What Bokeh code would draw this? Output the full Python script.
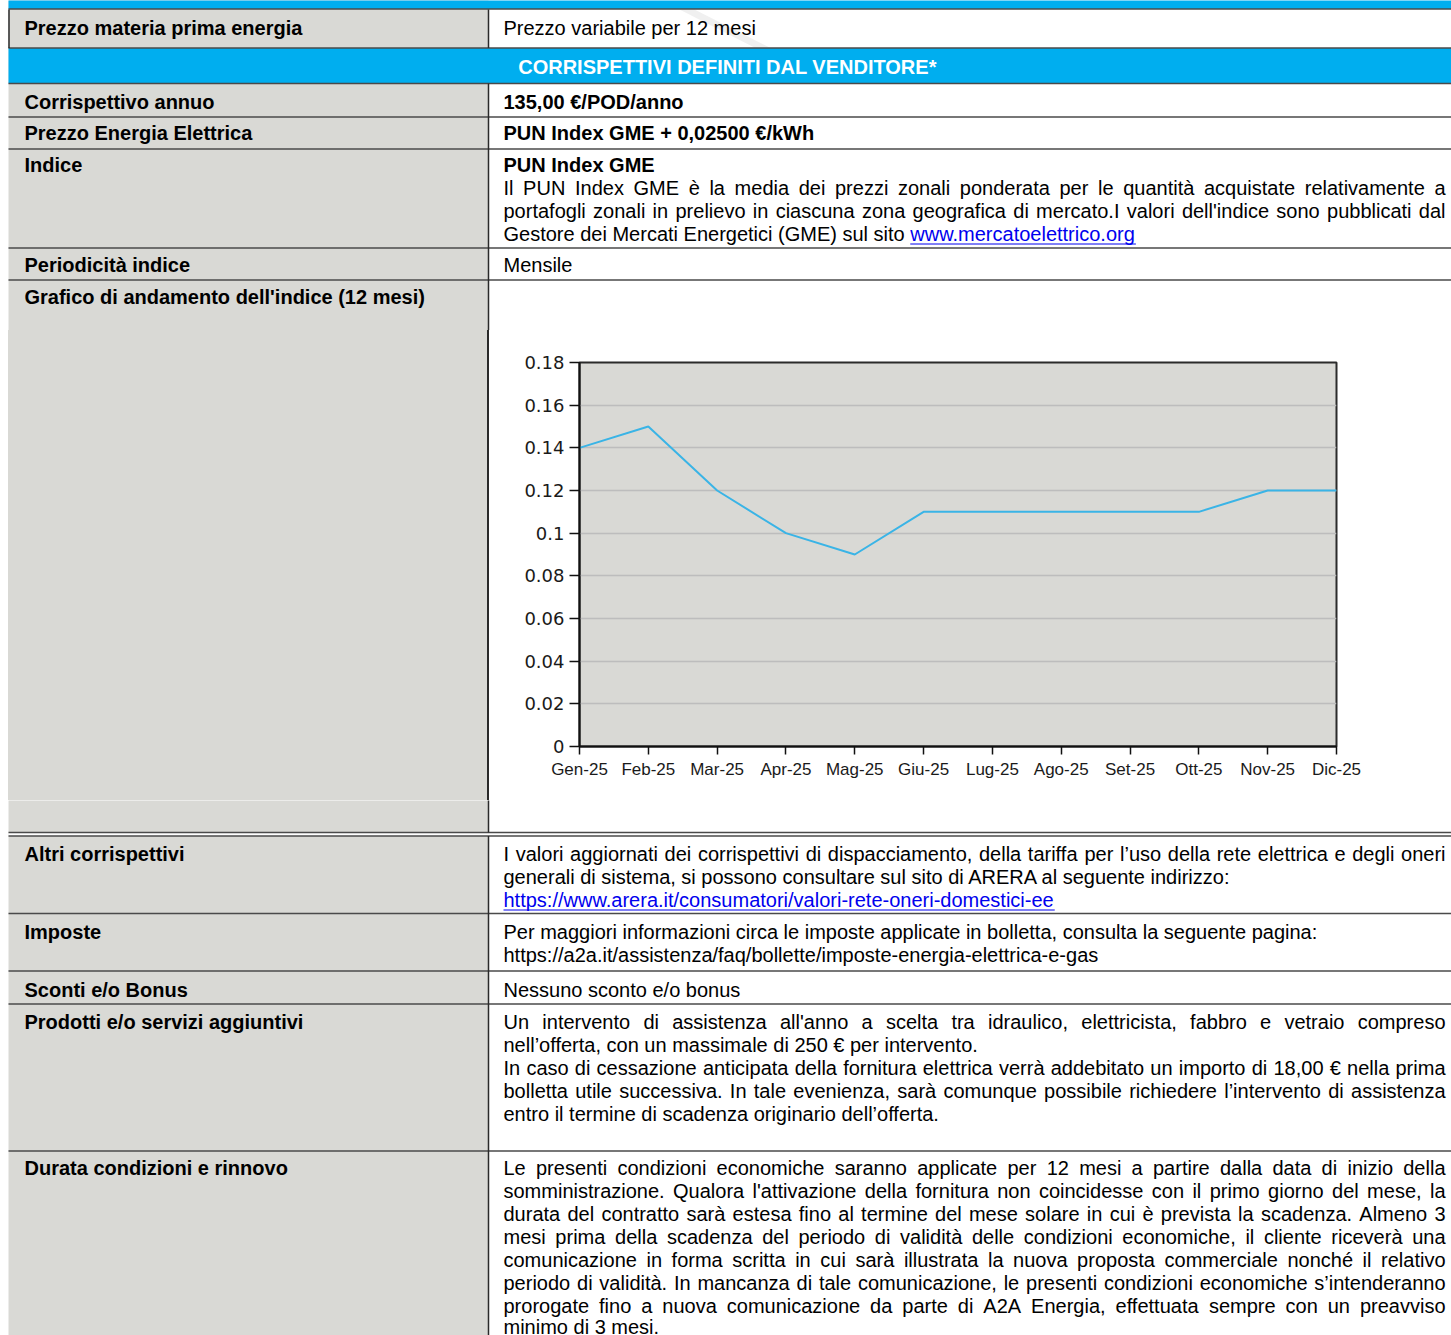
from bokeh.plotting import figure
from bokeh.layouts import column, row
from bokeh.models import Range1d, ColumnDataSource, FixedTicker, Div
from bokeh.core.properties import value
from bokeh.embed import file_html
from bokeh.resources import INLINE

# ---------------- chart data ----------------
months = ["Gen-25", "Feb-25", "Mar-25", "Apr-25", "Mag-25", "Giu-25",
          "Lug-25", "Ago-25", "Set-25", "Ott-25", "Nov-25", "Dic-25"]
pun_index = [0.14, 0.15, 0.12, 0.10, 0.09, 0.11, 0.11, 0.11, 0.11, 0.11, 0.12, 0.12]
y_ticks = [0, 0.02, 0.04, 0.06, 0.08, 0.1, 0.12, 0.14, 0.16, 0.18]
y_tick_labels = ["0", "0.02", "0.04", "0.06", "0.08", "0.1", "0.12", "0.14", "0.16", "0.18"]

# ---------------- table content ----------------
row_labels = ["Prezzo materia prima energia", "Corrispettivo annuo", "Prezzo Energia Elettrica",
              "Indice", "Periodicità indice", "Grafico di andamento dell'indice (12 mesi)",
              "Altri corrispettivi", "Imposte", "Sconti e/o Bonus",
              "Prodotti e/o servizi aggiuntivi", "Durata condizioni e rinnovo"]
row_label_y = [35, 109, 140, 172, 272, 304, 861, 939, 997, 1029, 1175]

header_text = "CORRISPETTIVI DEFINITI DAL VENDITORE*"

bold_right = [("135,00 €/POD/anno", 109), ("PUN Index GME + 0,02500 €/kWh", 140), ("PUN Index GME", 172)]

# (text, baseline, justified)
body_lines = [
    ("Prezzo variabile per 12 mesi", 35, False),
    ("Il  PUN  Index  GME  è  la  media  dei  prezzi  zonali  ponderata  per  le  quantità  acquistate  relativamente  a", 195, True),
    ("portafogli zonali in prelievo in ciascuna zona geografica di mercato.I valori dell'indice sono pubblicati dal", 218, True),
    ("Gestore dei Mercati Energetici (GME) sul sito", 241, False),
    ("Mensile", 272, False),
    ("I valori aggiornati dei corrispettivi di dispacciamento, della tariffa per l’uso della rete elettrica e degli oneri", 861, True),
    ("generali di sistema, si possono consultare sul sito di ARERA al seguente indirizzo:", 884, False),
    ("Per maggiori informazioni circa le imposte applicate in bolletta, consulta la seguente pagina:", 939, False),
    ("https://a2a.it/assistenza/faq/bollette/imposte-energia-elettrica-e-gas", 962, False),
    ("Nessuno sconto e/o bonus", 997, False),
    ("Un intervento di assistenza all'anno a scelta tra idraulico, elettricista, fabbro e vetraio compreso", 1029, True),
    ("nell’offerta, con un massimale di 250 € per intervento.", 1052, False),
    ("In caso di cessazione anticipata della fornitura elettrica verrà addebitato un importo di  18,00 € nella prima", 1075, True),
    ("bolletta utile successiva. In tale evenienza, sarà comunque possibile richiedere l’intervento di assistenza", 1098, True),
    ("entro il termine di scadenza originario dell’offerta.", 1121, False),
    ("Le presenti condizioni economiche saranno applicate per 12 mesi a partire dalla data di inizio della", 1175, True),
    ("somministrazione. Qualora l'attivazione della fornitura non coincidesse con il primo giorno del mese, la", 1198, True),
    ("durata del contratto sarà estesa fino al termine del mese solare in cui è prevista la scadenza. Almeno 3", 1221, True),
    ("mesi prima della scadenza del periodo di validità delle condizioni economiche, il cliente riceverà una", 1244, True),
    ("comunicazione in forma scritta in cui sarà illustrata la nuova proposta commerciale nonché il relativo", 1267, True),
    ("periodo di validità. In mancanza di tale comunicazione, le presenti condizioni economiche s’intenderanno", 1290, True),
    ("prorogate fino a nuova comunicazione da parte di A2A Energia, effettuata sempre con un preavviso", 1313, True),
    ("minimo di 3 mesi.", 1334, False),
]
links = [("www.mercatoelettrico.org", 241, "Gestore dei Mercati Energetici (GME) sul sito "),
         ("https://www.arera.it/consumatori/valori-rete-oneri-domestici-ee", 907, "")]

# ---------------- style ----------------
FONT = "Liberation Sans"
GREY = "#D9D9D5"
BLUE = "#00AEEF"
LINE = "#4A4A4A"
DARK = "#2a2a2a"
LINK = "#0000EE"
PAGE_W, PAGE_H = 1451, 1335
X_LEFT, X_DIV, X_RIGHT = 8, 488, 1451
TX_L, TX_R, TX_END = 24, 503, 1445
TEXT_DY = -7.5          # baseline correction for the text glyph
H_LINES = [8.5, 47.5, 83, 116.5, 148.5, 247.5, 279.5, 832, 835.5, 913, 970.5, 1003.5, 1150.5]

# Arial / Liberation Sans advance widths (1/1000 em) for layout of justified text
_groups = {191: "'", 222: "ijl’", 278: " !,./:;I[]\\ftì", 333: "()-`r", 355: '"', 389: "*",
           500: "cksvxyzJ", 556: "0123456789abdeghnopquL_#$?€àèéòù", 584: "+<=>~",
           611: "FTZ", 667: "ABEKPSVXY&", 722: "CDHNRUw", 778: "GOQ", 833: "Mm",
           889: "%", 944: "W", 1015: "@"}
AW = {c: w for w, cs in _groups.items() for c in cs}


def tw(s, size=20.0):
    return sum(AW.get(c, 556) for c in s) * size / 1000.0


# text items: (x, baseline, text)
body_left, body_right = [], []
for text, y, just in body_lines:
    if not just:
        body_left.append((TX_R, y, text))
        continue
    words = text.split()
    widths = [tw(w) for w in words]
    gap = (TX_END - TX_R - sum(widths)) / (len(words) - 1)
    x = TX_R
    for w, wd in zip(words[:-1], widths[:-1]):
        body_left.append((x, y, w))
        x += wd + gap
    body_right.append((TX_END, y, words[-1]))

link_items, underlines = [], []
for text, y, prefix in links:
    x0 = TX_R + tw(prefix)
    link_items.append((x0, y, text))
    underlines.append((x0, x0 + tw(text), y + 2.5))

label_items = [(TX_L, y, t) for t, y in zip(row_labels, row_label_y)]
bold_items = [(TX_R, y, t) for t, y in bold_right]
header_items = [(727, 74, header_text)]


def src_for(items, y0, y1):
    sel = [it for it in items if y0 <= it[1] - 16 and it[1] - 16 < y1]
    return ColumnDataSource(dict(x=[s[0] for s in sel], y=[s[1] + TEXT_DY for s in sel],
                                 text=[s[2] for s in sel]))


def add_text(p, items, y0, y1, bold=False, align="left", color="black", size="20px"):
    src = src_for(items, y0, y1)
    if len(src.data["x"]) == 0:
        return
    p.text(x="x", y="y", text="text", source=src, text_font=value(FONT), text_font_size=size,
           text_font_style="bold" if bold else "normal", text_align=align,
           text_baseline="alphabetic", text_color=color)


def page_fig(x0, x1, y0, y1):
    p = figure(width=int(x1 - x0), height=int(y1 - y0), x_range=Range1d(x0, x1), y_range=Range1d(y1, y0),
               output_backend="svg", toolbar_location=None, min_border=0,
               x_axis_type=None, y_axis_type=None, outline_line_color=None,
               background_fill_color="white", border_fill_color="white")
    p.grid.visible = False
    # faint watermark streak behind the first row
    p.patch(x=[679, 694, 769, 754], y=[9, 9, 47, 47], fill_color="#E6E6E6", fill_alpha=0.6, line_color=None)
    # cells
    p.quad(left=[X_LEFT], right=[X_DIV], top=[y0 - 2], bottom=[y1 + 2], fill_color=GREY, line_color=None)
    p.quad(left=[X_LEFT], right=[X_RIGHT], top=[832], bottom=[835.5], fill_color="white", line_color=None)
    p.quad(left=[X_LEFT, X_LEFT], right=[X_RIGHT, X_RIGHT], top=[-5, 47.5], bottom=[8.5, 83],
           fill_color=BLUE, line_color=None)
    # borders
    n = len(H_LINES)
    p.segment(x0=[X_LEFT] * n, x1=[X_RIGHT] * n, y0=H_LINES, y1=H_LINES, line_color=LINE, line_width=1.5)
    p.segment(x0=[X_DIV] * 3, x1=[X_DIV] * 3, y0=[9, 83, 835.5], y1=[47.5, 832, 1345],
              line_color=DARK, line_width=1.5)
    p.segment(x0=[X_LEFT + 0.5], x1=[X_LEFT + 0.5], y0=[9], y1=[47.5], line_color=DARK, line_width=1.5)
    # texts
    add_text(p, label_items, y0, y1, bold=True)
    add_text(p, bold_items, y0, y1, bold=True)
    add_text(p, body_left, y0, y1)
    add_text(p, body_right, y0, y1, align="right")
    add_text(p, link_items, y0, y1, color=LINK)
    ul = [u for u in underlines if y0 <= u[2] < y1]
    if ul:
        p.segment(x0=[u[0] for u in ul], x1=[u[1] for u in ul], y0=[u[2] for u in ul],
                  y1=[u[2] for u in ul], line_color=LINK, line_width=1)
    add_text(p, header_items, y0, y1, bold=True, align="center", color="white")
    return p


def solid_block(w, h, color):
    return Div(text="", width=w, height=h, margin=(0, 0, 0, 0),
               styles={"background-color": color, "padding": "0px", "margin": "0px"})


# ---------------- the chart ----------------
CH_X0, CH_X1, CH_Y0, CH_Y1 = 489, PAGE_W, 330, 800
FRAME_L, FRAME_R, FRAME_T, FRAME_B = 579, 1336, 362, 746
chart = figure(width=CH_X1 - CH_X0, height=CH_Y1 - CH_Y0,
               x_range=Range1d(0, len(months) - 1), y_range=Range1d(y_ticks[0], y_ticks[-1]),
               output_backend="svg", toolbar_location=None,
               min_border_left=FRAME_L - CH_X0, min_border_right=CH_X1 - FRAME_R,
               min_border_top=FRAME_T - CH_Y0, min_border_bottom=CH_Y1 - FRAME_B,
               background_fill_color=GREY, border_fill_color="white",
               outline_line_color="#2b2b2b", outline_line_width=2)
month_idx = list(range(len(months)))
chart.line(x=month_idx, y=pun_index, line_color="#3AB4E6", line_width=2)

chart.xgrid.visible = False
chart.ygrid.ticker = FixedTicker(ticks=y_ticks)
chart.ygrid.grid_line_color = "#BDBDBD"
chart.ygrid.grid_line_width = 1.5

chart.yaxis.ticker = FixedTicker(ticks=y_ticks)
chart.yaxis.major_label_overrides = dict(zip(y_ticks, y_tick_labels))
chart.xaxis.ticker = FixedTicker(ticks=month_idx)
chart.xaxis.major_label_overrides = dict(zip(month_idx, months))
for ax in (chart.xaxis[0], chart.yaxis[0]):
    ax.axis_line_color = "#111111"
    ax.axis_line_width = 2
    ax.major_tick_line_color = "#111111"
    ax.major_tick_line_width = 1.5
    ax.major_tick_in = 0
    ax.minor_tick_line_color = None
    ax.major_label_text_color = "#1a1a1a"
chart.yaxis.major_tick_out = 10
chart.yaxis.major_label_standoff = 5
chart.yaxis.major_label_text_font = "DejaVu Sans"
chart.yaxis.major_label_text_font_size = "18px"
chart.xaxis.major_tick_out = 8
chart.xaxis.major_label_standoff = 5
chart.xaxis.major_label_text_font = FONT
chart.xaxis.major_label_text_font_size = "17px"

# ---------------- page layout ----------------
MID_H = CH_Y1 - CH_Y0
top = page_fig(0, PAGE_W, 0, CH_Y0)
mid = row(solid_block(X_LEFT, MID_H, "white"),
          solid_block(X_DIV - 1 - X_LEFT, MID_H, GREY),
          solid_block(2, MID_H, DARK),
          chart)
bottom = page_fig(0, PAGE_W, CH_Y1, PAGE_H)

p = column(top, mid, bottom)
open("out.html", "w").write(file_html(p, INLINE))
